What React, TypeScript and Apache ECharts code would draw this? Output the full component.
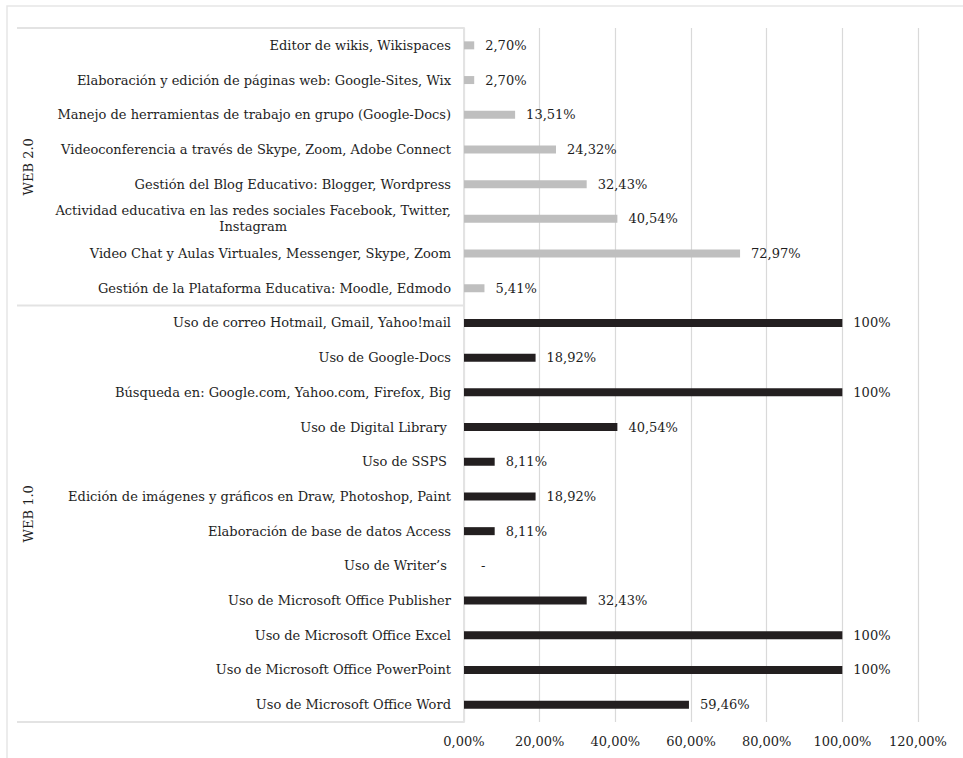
import React, { useEffect, useRef } from 'react';
import * as echarts from 'echarts';

const groupNames = ['WEB 2.0', 'WEB 1.0'];

const web20Categories = [
  'Editor de wikis, Wikispaces',
  'Elaboración y edición de páginas web: Google-Sites, Wix',
  'Manejo de herramientas de trabajo en grupo (Google-Docs)',
  'Videoconferencia a través de Skype, Zoom, Adobe Connect',
  'Gestión del Blog Educativo: Blogger, Wordpress',
  'Actividad educativa en las redes sociales Facebook, Twitter,\nInstagram',
  'Video Chat y Aulas Virtuales, Messenger, Skype, Zoom',
  'Gestión de la Plataforma Educativa: Moodle, Edmodo',
];
const web20Values = [2.7, 2.7, 13.51, 24.32, 32.43, 40.54, 72.97, 5.41];

const web10Categories = [
  'Uso de correo Hotmail, Gmail, Yahoo!mail',
  'Uso de Google-Docs',
  'Búsqueda en: Google.com, Yahoo.com, Firefox, Big',
  'Uso de Digital Library ',
  'Uso de SSPS ',
  'Edición de imágenes y gráficos en Draw, Photoshop, Paint',
  'Elaboración de base de datos Access',
  'Uso de Writer’s ',
  'Uso de Microsoft Office Publisher',
  'Uso de Microsoft Office Excel',
  'Uso de Microsoft Office PowerPoint',
  'Uso de Microsoft Office Word',
];
const web10Values = [100, 18.92, 100, 40.54, 8.11, 18.92, 8.11, 0, 32.43, 100, 100, 59.46];

const xMin = 0;
const xMax = 120;
const xStep = 20;

const web20Color = '#bfbfbf';
const web10Color = '#231f20';
const FONT = '"DejaVu Serif", Georgia, serif';
const LABEL_SIZE = 13;
const TEXT_COLOR = '#1e1e1e';

const fmtPct = (v: number) => v.toFixed(2).replace('.', ',') + '%';
const fmtBar = (v: number) => (v === 0 ? '-' : v === 100 ? '100%' : fmtPct(v));

function measure(text: string, size: number) {
  const c = document.createElement('canvas');
  const ctx = c.getContext('2d');
  if (!ctx) return text.length * size * 0.6;
  ctx.font = `${size}px ${FONT}`;
  return ctx.measureText(text).width;
}

export default function App() {
  const ref = useRef<HTMLDivElement>(null);
  useEffect(() => {
    if (!ref.current) return;
    const chart = echarts.init(ref.current, undefined, { renderer: 'svg' });
    const categories = [...web20Categories, ...web10Categories];
    const data = [
      ...web20Values.map((v) => ({ value: v, itemStyle: { color: web20Color } })),
      ...web10Values.map((v) => ({
        value: v,
        itemStyle: { color: web10Color },
        label: v === 0 ? { distance: 17 } : undefined,
      })),
    ];

    chart.setOption({
      animation: false,
      grid: { left: 464, right: 45, top: 28, bottom: 36, containLabel: false },
      xAxis: {
        type: 'value',
        min: xMin,
        max: xMax,
        interval: xStep,
        axisLine: { show: false },
        axisTick: { show: false },
        splitLine: { show: true, lineStyle: { color: '#d9d9d9', width: 1.2 } },
        axisLabel: {
          formatter: (v: number) => fmtPct(v),
          fontFamily: FONT,
          fontSize: LABEL_SIZE,
          color: TEXT_COLOR,
          margin: 13,
        },
      },
      yAxis: {
        type: 'category',
        inverse: true,
        data: categories,
        axisLine: { show: true, lineStyle: { color: '#e3e3e3', width: 2 } },
        axisTick: { show: false },
        axisLabel: {
          fontFamily: FONT,
          fontSize: LABEL_SIZE,
          color: TEXT_COLOR,
          margin: 13,
          lineHeight: 16,
          interval: 0,
          formatter: (v: string) => {
            if (v.indexOf('\n') >= 0) {
              const [a, b] = v.split('\n');
              return `{a|${a}}\n{b|${b}}`;
            }
            return v;
          },
          rich: {
            a: { fontFamily: FONT, fontSize: LABEL_SIZE, color: TEXT_COLOR, lineHeight: 16 },
            b: {
              fontFamily: FONT,
              fontSize: LABEL_SIZE,
              color: TEXT_COLOR,
              lineHeight: 16,
              align: 'center',
              width: measure(web20Categories[5].split('\n')[0], LABEL_SIZE),
            },
          },
        },
      },
      series: [
        {
          type: 'bar',
          data,
          barWidth: 8,
          label: {
            show: true,
            position: 'right',
            distance: 11,
            fontFamily: FONT,
            fontSize: LABEL_SIZE,
            color: TEXT_COLOR,
            formatter: (p: any) => fmtBar(p.value),
          },
        },
      ],
    });

    const n = categories.length;
    const yAt = (i: number) => chart.convertToPixel({ yAxisIndex: 0 }, i) as number;
    const band = yAt(1) - yAt(0);
    const top = yAt(0) - band / 2;
    const split = (yAt(web20Categories.length - 1) + yAt(web20Categories.length)) / 2;
    const bottom = yAt(n - 1) + band / 2;
    const axisX = chart.convertToPixel({ xAxisIndex: 0 }, 0) as number;
    const lineStyle = { stroke: '#e3e3e3', lineWidth: 2 };

    chart.setOption({
      graphic: [
        { type: 'rect', shape: { x: 7, y: 6, width: 1200, height: 1200 }, style: { fill: 'none', stroke: '#e6e6e6', lineWidth: 1.5 }, silent: true },
        { type: 'line', shape: { x1: 17, y1: top, x2: axisX, y2: top }, style: lineStyle },
        { type: 'line', shape: { x1: 17, y1: split, x2: axisX, y2: split }, style: lineStyle },
        { type: 'line', shape: { x1: 17, y1: bottom, x2: axisX, y2: bottom }, style: lineStyle },
        {
          type: 'text', x: 28, y: (top + split) / 2, rotation: Math.PI / 2,
          style: { text: groupNames[0], fontFamily: FONT, fontSize: LABEL_SIZE, fill: TEXT_COLOR, align: 'center', verticalAlign: 'middle' },
        },
        {
          type: 'text', x: 28, y: (split + bottom) / 2, rotation: Math.PI / 2,
          style: { text: groupNames[1], fontFamily: FONT, fontSize: LABEL_SIZE, fill: TEXT_COLOR, align: 'center', verticalAlign: 'middle' },
        },
      ],
    });

    return () => chart.dispose();
  }, []);
  return <div ref={ref} style={{ position: 'fixed', left: 0, top: 0, width: 963, height: 758, background: '#fff' }} />;
}
